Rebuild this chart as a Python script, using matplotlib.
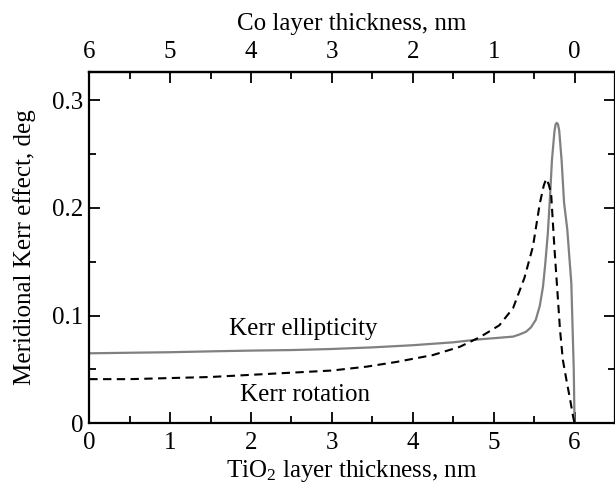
import matplotlib
matplotlib.use("Agg")
import matplotlib.pyplot as plt
from matplotlib.ticker import MultipleLocator

plt.rcParams['font.family'] = ['Liberation Serif', 'DejaVu Serif']
plt.rcParams['mathtext.fontset'] = 'custom'
plt.rcParams['mathtext.rm'] = 'Liberation Serif'
plt.rcParams['mathtext.it'] = 'Liberation Serif:italic'

# Kerr ellipticity (solid grey curve), TiO2 thickness in nm
ell_x = [0, 0.5, 1, 1.5, 2, 2.5, 3, 3.5, 4, 4.5, 4.83, 5.0, 5.24, 5.32,
         5.40, 5.46, 5.52, 5.57, 5.61, 5.64, 5.67, 5.70, 5.72, 5.75, 5.765,
         5.78, 5.795, 5.81, 5.84, 5.87, 5.91, 5.96, 5.99, 6.0]
ell_y = [0.065, 0.0655, 0.066, 0.0668, 0.0675, 0.068, 0.069, 0.0705, 0.0725,
         0.0752, 0.078, 0.079, 0.0805, 0.0825, 0.085, 0.089, 0.096, 0.109,
         0.127, 0.150, 0.177, 0.215, 0.244, 0.270, 0.2775, 0.279, 0.2775,
         0.272, 0.244, 0.205, 0.180, 0.130, 0.050, 0.0]

# Kerr rotation (dashed black curve)
rot_x = [0, 0.5, 1, 1.5, 2, 2.5, 3, 3.43, 3.8, 4.25, 4.58, 4.83, 5.07, 5.24,
         5.38, 5.485, 5.57, 5.62, 5.65, 5.68, 5.71, 5.75, 5.77, 5.79, 5.82,
         5.855, 5.90, 5.95, 5.98, 6.0]
rot_y = [0.041, 0.041, 0.042, 0.043, 0.045, 0.047, 0.049, 0.0526, 0.057,
         0.0634, 0.071, 0.080, 0.091, 0.107, 0.135, 0.164, 0.204, 0.221,
         0.227, 0.222, 0.2135, 0.164, 0.142, 0.120, 0.087, 0.059, 0.040,
         0.020, 0.007, 0.0]

x_ticks = [0, 1, 2, 3, 4, 5, 6]
y_ticks = [0, 0.1, 0.2, 0.3]
y_tick_labels = ['0', '0.1', '0.2', '0.3']

fs = 18

fig = plt.figure(figsize=(6.15, 4.91), dpi=100)
ax = fig.add_axes([0.1452, 0.1379, 0.8548, 0.7161])

ax.plot(ell_x, ell_y, color='#808080', lw=1.6, solid_joinstyle='round')
ax.plot(rot_x, rot_y, color='black', lw=1.5, linestyle=(0, (4, 2.6)))

ax.text(2.65, 0.0875, 'Kerr ellipticity', ha='center', va='center', fontsize=fs)
ax.text(2.67, 0.0265, 'Kerr rotation', ha='center', va='center', fontsize=fs)

ax.set_xlim(0, 6.5)
ax.set_ylim(0, 0.3265)
ax.set_xticks(x_ticks)
ax.set_yticks(y_ticks)
ax.set_yticklabels(y_tick_labels)
ax.xaxis.set_minor_locator(MultipleLocator(0.5))
ax.yaxis.set_minor_locator(MultipleLocator(0.05))
ax.tick_params(which='both', direction='in', right=True, labelsize=fs, width=1.3)
ax.tick_params(which='major', length=8)
ax.tick_params(axis='x', which='major', pad=6)
ax.tick_params(axis='y', which='major', pad=4)
ax.tick_params(which='minor', length=5)

for s in ax.spines.values():
    s.set_linewidth(1.6)

ax.set_xlabel('TiO$_2$ layer thickness, nm', fontsize=fs, labelpad=3)
ax.set_ylabel('Meridional Kerr effect, deg', fontsize=fs, labelpad=12)

top = ax.secondary_xaxis('top', functions=(lambda v: 6 - v, lambda v: 6 - v))
top.set_xticks(x_ticks)
top.xaxis.set_minor_locator(MultipleLocator(0.5))
top.tick_params(which='both', direction='in', labelsize=fs, width=1.3)
top.tick_params(which='major', length=8, pad=6)
top.tick_params(which='minor', length=5)
top.spines['top'].set_linewidth(1.6)
top.set_xlabel('Co layer thickness, nm', fontsize=fs, labelpad=8)

fig.savefig('out.png', dpi=100)
